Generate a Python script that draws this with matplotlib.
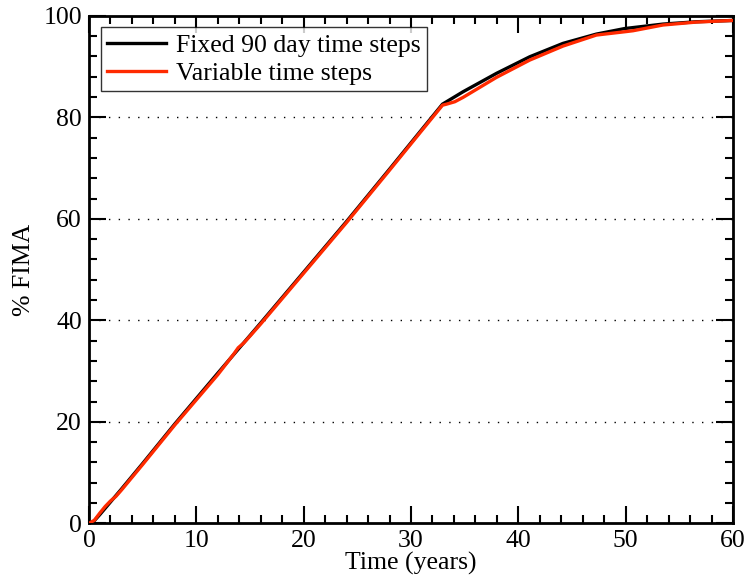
import matplotlib
matplotlib.use("Agg")
import matplotlib.pyplot as plt
from matplotlib.ticker import MultipleLocator

# Fixed 90 day time steps (black)
fixed_t = [0, 0.4, 1, 2, 3, 5, 8, 12, 16, 20, 24, 28, 31, 32.93,
           34.85, 37.96, 41.06, 44.16, 47.27, 49.9, 53.47, 56.58, 60]
fixed_y = [0, 0.3, 1.7, 4.2, 6.7, 11.8, 19.6, 29.6, 39.5, 49.5, 59.5, 69.8, 77.6, 82.6,
           85.05, 88.67, 91.94, 94.58, 96.41, 97.5, 98.38, 98.84, 99.1]

# Variable time steps (red)
var_t = [0, 0.5, 1, 1.5, 2, 2.5, 3, 5, 8, 12, 13.5, 13.9, 14.4, 15, 16, 20, 24, 28, 31, 32.93,
         33.3, 34.08, 34.85, 37.96, 41.06, 44.16, 47.27, 49.9, 50.68, 53.47, 56.58, 60]
var_y = [0, 0.6, 2.0, 3.3, 4.4, 5.3, 6.5, 11.6, 19.4, 29.3, 33.4, 34.6, 35.5, 36.9, 39.3, 49.3, 59.3, 69.6, 77.4, 82.4,
         82.6, 83.08, 83.94, 87.88, 91.29, 94.05, 96.22, 96.87, 97.07, 98.2, 98.78, 99.1]

plt.rcParams['font.family'] = ['Liberation Serif', 'DejaVu Serif']
plt.rcParams['mathtext.fontset'] = 'stix'

fig = plt.figure(figsize=(7.48, 5.88), dpi=100)
ax = fig.add_axes([0.119, 0.110, 0.861, 0.863])

ax.plot(fixed_t, fixed_y, color='black', lw=2.4, label='Fixed 90 day time steps', zorder=3)
ax.plot(var_t, var_y, color='#ff2a00', lw=2.4, label='Variable time steps', zorder=4)

ax.set_xlim(0, 60)
ax.set_ylim(0, 100)
ax.xaxis.set_major_locator(MultipleLocator(10))
ax.xaxis.set_minor_locator(MultipleLocator(2))
ax.yaxis.set_major_locator(MultipleLocator(20))
ax.yaxis.set_minor_locator(MultipleLocator(4))
ax.tick_params(which='both', direction='in', top=True, right=True, labelsize=18.5, width=1.5, pad=5)
ax.tick_params(which='major', length=12)
ax.tick_params(which='minor', length=6)
for s in ax.spines.values():
    s.set_linewidth(2.0)

for gy in [20, 40, 60, 80]:
    ax.axhline(gy, color='black', lw=1.0, linestyle=(0, (1, 6)), zorder=1)

ax.set_xlabel('Time (years)', fontsize=18.5, labelpad=0)
ax.set_ylabel('% FIMA', fontsize=18.5, labelpad=6)

leg = ax.legend(loc='upper left', fontsize=18.5, frameon=True, fancybox=False,
                edgecolor='black', handlelength=2.3, borderpad=0.25, labelspacing=0.2,
                handletextpad=0.4, borderaxespad=0.45)
leg.get_frame().set_linewidth(1.0)

fig.savefig('out.png', dpi=100)
